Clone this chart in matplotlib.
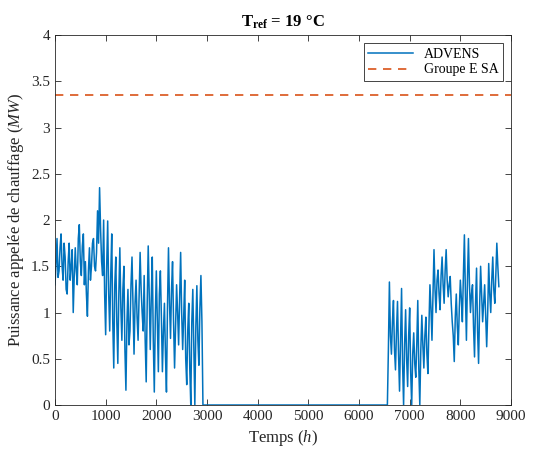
import numpy as np
import matplotlib.pyplot as plt

plt.rcParams['font.family'] = 'Liberation Serif'
plt.rcParams['mathtext.fontset'] = 'custom'
plt.rcParams['mathtext.rm'] = 'Liberation Serif'
plt.rcParams['mathtext.it'] = 'Liberation Serif:italic'
plt.rcParams['mathtext.bf'] = 'Liberation Serif:bold'

step = 20
start_winter1 = 0
advens_winter1 = [
    1.30, 1.52, 1.80, 1.38, 1.45, 1.70, 1.85, 1.50, 1.35, 1.75,
    1.60, 1.25, 1.20, 1.55, 1.75, 1.35, 1.50, 1.68, 1.00, 1.40,
    1.70, 1.45, 1.30, 1.80, 1.95, 1.55, 1.40, 1.72, 1.85, 1.30,
    1.55, 1.20, 0.96, 1.45, 1.70, 1.35, 1.50, 1.75, 1.80, 1.50,
    1.45, 1.65, 2.10, 1.75, 2.35, 1.90, 1.55, 1.40, 2.00, 1.20,
    0.76, 1.50, 1.99, 1.20, 0.80, 1.40, 1.85, 0.90, 0.40, 1.30,
    1.60, 0.90, 0.45, 1.20, 1.70, 1.05, 0.70, 1.25, 1.50, 0.60,
    0.16, 0.90, 1.25, 0.65, 0.80, 1.30, 1.60, 1.05, 0.55, 1.10,
    1.35, 0.95, 0.70, 1.20, 1.65, 1.25, 1.00, 0.80, 1.40, 0.70,
    0.25, 1.10, 1.72, 1.20, 0.60, 1.15, 1.60, 0.70, 0.14, 0.95,
    1.45, 0.90, 0.36, 1.20, 1.45, 0.95, 0.36, 0.80, 1.10, 0.55,
    0.14, 1.05, 1.70, 1.10, 0.72, 1.25, 1.55, 0.90, 0.40, 0.85,
    1.30, 1.00, 0.65, 1.15, 1.65, 1.00, 0.60, 0.95, 1.35, 0.50,
    0.22, 0.80, 1.10, 0.40, 0.00, 0.90, 1.25, 0.60, 0.00, 0.85,
    1.29, 0.70, 0.43, 1.05, 1.40, 0.90, 0.00,
]
start_winter2 = 6560
advens_winter2 = [
    0.00, 0.60, 1.33, 0.75, 0.55, 0.90, 1.13, 0.60, 0.38, 0.80,
    1.12, 0.55, 0.15, 0.70, 1.26, 0.45, 0.00, 0.65, 1.03, 0.50,
    0.20, 0.75, 1.05, 0.35, 0.00, 0.55, 0.78, 0.45, 0.30, 0.65,
    1.13, 0.40, 0.00, 0.60, 0.97, 0.65, 0.40, 0.75, 0.95, 0.55,
    0.34, 0.85, 1.30, 1.05, 0.70, 1.20, 1.68, 1.25, 1.00, 1.35,
    1.46, 1.20, 1.03, 1.40, 1.60, 1.30, 1.10, 1.45, 1.68, 1.35,
    1.17, 1.30, 1.39, 1.10, 0.90, 0.75, 0.47, 0.95, 1.20, 0.85,
    0.65, 1.05, 1.35, 1.15, 0.90, 1.40, 1.84, 1.20, 0.70, 1.35,
    1.80, 1.30, 1.00, 1.20, 1.30, 0.85, 0.52, 1.10, 1.48, 0.80,
    0.45, 1.05, 1.50, 1.20, 0.90, 1.10, 1.30, 0.95, 0.63, 1.00,
    1.53, 1.20, 1.00, 1.35, 1.60, 1.25, 1.10, 1.40, 1.75, 1.50,
    1.28,
]
groupe_e = 3.35

hours = np.concatenate([
    start_winter1 + step * np.arange(len(advens_winter1)),
    start_winter2 + step * np.arange(len(advens_winter2)),
])
power = np.concatenate([advens_winter1, advens_winter2])

fig = plt.figure(figsize=(5.37, 4.5), dpi=100)
ax = fig.add_axes([0.1024, 0.1, 0.8492, 0.822])

ax.plot(hours, power, color='#0072BD', lw=1.1, label='ADVENS')
ax.axhline(groupe_e, color='#D95319', lw=1.2, ls=(0, (5, 4)), label='Groupe E SA')

ax.set_xlim(0, 9000)
ax.set_ylim(0, 4)
ax.set_xticks(np.arange(0, 9001, 1000))
ax.set_yticks(np.arange(0, 4.01, 0.5))
ax.set_yticklabels(['0', '0.5', '1', '1.5', '2', '2.5', '3', '3.5', '4'])
ax.tick_params(direction='in', top=True, right=True, labelsize=11,
               colors='#262626', length=4, width=0.6)
for s in ax.spines.values():
    s.set_color('#262626')
    s.set_linewidth(0.6)

ax.set_xlabel('Temps ($h$)', fontsize=12, color='#262626')
ax.set_ylabel('Puissance appelée de chauffage ($MW$)', fontsize=12, color='#262626')
ax.set_title(r'$\mathbf{T_{ref}}$ = 19 °C', fontsize=12, fontweight='bold')

leg = ax.legend(loc='upper right', fontsize=10, fancybox=False, framealpha=1,
                edgecolor='#262626', borderpad=0.3, handlelength=3.2,
                labelspacing=0.2, borderaxespad=0.6)
leg.get_frame().set_linewidth(0.6)

fig.savefig('out.png', dpi=100)
